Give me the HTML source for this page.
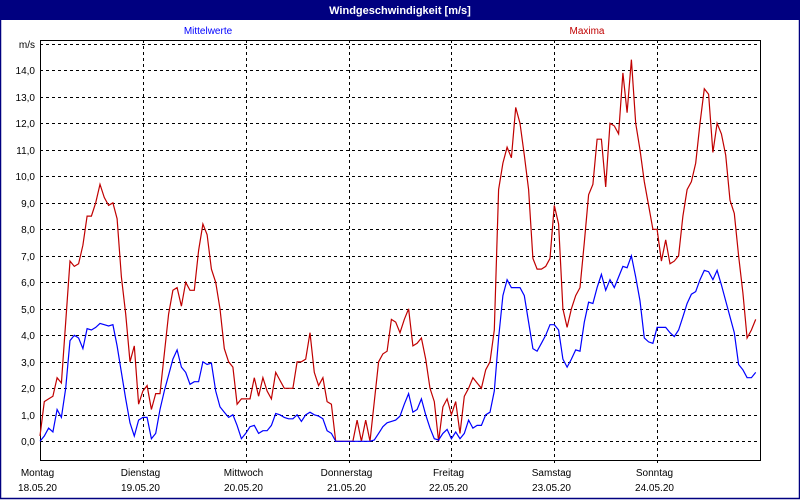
<!DOCTYPE html>
<html><head><meta charset="utf-8"><style>
html,body{margin:0;padding:0;background:#fff;}
svg{display:block;font-family:"Liberation Sans",sans-serif;}
</style></head><body>
<svg id="chart" width="800" height="500" viewBox="0 0 800 500">
<rect x="0" y="0" width="800" height="500" fill="#fff"/>
<rect x="0.5" y="0.5" width="799" height="498" fill="none" stroke="#000080" stroke-width="1.5"/>
<rect x="0" y="0" width="800" height="20" fill="#000080"/>
<text x="400" y="14" text-anchor="middle" font-size="11" font-weight="bold" fill="#fff">Windgeschwindigkeit [m/s]</text>
<text x="208" y="34" text-anchor="middle" font-size="10" fill="#0000ff">Mittelwerte</text>
<text x="587" y="34" text-anchor="middle" font-size="10" fill="#c00000">Maxima</text>
<g id="grid"></g>
<g id="axes"></g>
<g id="series"></g>
</svg>
<script>
const dayNames = ["Montag","Dienstag","Mittwoch","Donnerstag","Freitag","Samstag","Sonntag"];
const dayDates = ["18.05.20","19.05.20","20.05.20","21.05.20","22.05.20","23.05.20","24.05.20"];
const yTicks = [0,1,2,3,4,5,6,7,8,9,10,11,12,13,14];
const yTickLabels = ["0,0","1,0","2,0","3,0","4,0","5,0","6,0","7,0","8,0","9,0","10,0","11,0","12,0","13,0","14,0"];
const maxima = [
0.2,1.5,1.6,1.7,2.4,2.2,4.5,6.8,6.6,6.7,7.4,8.5,8.5,9.0,9.7,9.2,8.9,9.0,8.4,6.2,4.8,3.0,3.6,1.4,
1.9,2.1,1.2,1.8,1.8,3.3,4.8,5.7,5.8,5.1,6.0,5.7,5.7,7.2,8.2,7.8,6.5,6.0,5.0,3.5,3.0,2.8,1.4,1.6,
1.6,1.6,2.4,1.7,2.4,1.9,1.6,2.6,2.3,2.0,2.0,2.0,3.0,3.0,3.1,4.1,2.6,2.1,2.4,1.5,1.4,0,0,0,
0,0,0.8,0,0.8,0,1.5,3.0,3.3,3.4,4.6,4.5,4.1,4.6,5.0,3.6,3.7,3.9,3.1,2.0,1.5,0,1.3,1.6,
1.0,1.5,0.3,1.7,2.0,2.4,2.2,2.0,2.7,3.0,4.2,9.5,10.5,11.1,10.7,12.6,12.0,10.8,9.5,6.9,6.5,6.5,6.6,6.9,
8.9,8.2,5.0,4.3,5.0,5.5,5.8,7.5,9.3,9.7,11.4,11.4,9.6,12.0,11.9,11.6,13.9,12.4,14.4,12.0,11.0,9.8,8.9,8.0,
8.0,6.8,7.6,6.7,6.8,7.0,8.5,9.5,9.8,10.5,12.0,13.3,13.1,10.9,12.0,11.6,10.8,9.1,8.6,7.0,5.6,3.9,4.2,4.6];
const mittel = [
0,0.2,0.5,0.35,1.2,0.9,2.0,3.8,4.0,3.9,3.5,4.25,4.2,4.3,4.45,4.4,4.35,4.4,3.6,2.6,1.6,0.7,0.2,0.8,
0.9,0.9,0.1,0.3,1.2,1.9,2.5,3.1,3.45,2.8,2.6,2.15,2.25,2.25,3.0,2.9,2.95,1.9,1.3,1.1,0.9,1.0,0.6,0.1,
0.3,0.55,0.6,0.3,0.4,0.4,0.6,1.05,1.0,0.9,0.85,0.85,1.0,0.75,1.0,1.1,1.0,0.95,0.85,0.4,0.3,0,0,0,
0,0,0,0,0,0,0.05,0.3,0.55,0.7,0.75,0.8,0.95,1.4,1.8,1.1,1.2,1.6,1.0,0.5,0.1,0.05,0.3,0.45,
0.1,0.35,0.1,0.3,0.8,0.5,0.6,0.6,1.0,1.1,1.9,3.9,5.5,6.1,5.8,5.8,5.8,5.5,4.5,3.5,3.4,3.7,4.0,4.4,
4.4,4.2,3.1,2.8,3.1,3.45,3.4,4.5,5.25,5.2,5.8,6.3,5.7,6.1,5.8,6.2,6.6,6.55,7.0,6.2,5.3,3.9,3.75,3.7,
4.3,4.3,4.3,4.1,3.95,4.2,4.7,5.2,5.55,5.65,6.1,6.45,6.4,6.1,6.45,5.9,5.3,4.7,4.1,2.9,2.7,2.4,2.4,2.6];

const NS = "http://www.w3.org/2000/svg";
const L = 40, R = 760, T = 40, B = 460;
const HOURS = 168;
function xScale(h){ return L + h * (R - L) / HOURS; }
function yScale(v){ return 441.3 - v * 26.5; }
function mk(tag, attrs, parent){ const e = document.createElementNS(NS, tag); for (const k in attrs) e.setAttribute(k, attrs[k]); parent.appendChild(e); return e; }

const grid = document.getElementById("grid");
const axes = document.getElementById("axes");
const series = document.getElementById("series");

// horizontal gridlines (including 15 at top "m/s")
for (let v = 0; v <= 15; v++) {
  const y = Math.round(yScale(v)) + 0.5;
  const ln = mk("line", {x1: L, x2: R, y1: y, y2: y, stroke: "#000", "stroke-width": 1, "stroke-dasharray": "3,3"}, grid);
  
  
}
yTicks.forEach((v, i) => {
  const t = mk("text", {x: 35, y: Math.round(yScale(v)) + 4, "text-anchor": "end", "font-size": 10, fill: "#000"}, axes);
  t.textContent = yTickLabels[i];
  
  
});
const unit = mk("text", {x: 35, y: Math.round(yScale(15)) + 4, "text-anchor": "end", "font-size": 10, fill: "#000"}, axes);
unit.textContent = "m/s";



dayNames.forEach((d, i) => {
  const x = Math.round(xScale(i * 24)) + 0.5;
  if (i > 0) {
    const ln = mk("line", {x1: x, x2: x, y1: T, y2: B + 4, stroke: "#000", "stroke-width": 1, "stroke-dasharray": "3,3"}, grid);
    
    
  }
  const t1 = mk("text", {x: x - 3, y: 476, "text-anchor": "middle", "font-size": 10, fill: "#000"}, axes);
  t1.textContent = d;
  
  
  const t2 = mk("text", {x: x - 3, y: 491, "text-anchor": "middle", "font-size": 10, fill: "#000"}, axes);
  t2.textContent = dayDates[i];
  
  
});

const frame = mk("rect", {x: L + 0.5, y: T + 0.5, width: R - L, height: B - T, fill: "none", stroke: "#000", "stroke-width": 1}, axes);



function drawLine(arr, color, name){
  const pts = arr.map((v, i) => xScale(i).toFixed(1) + "," + yScale(v).toFixed(1)).join(" ");
  const pl = mk("polyline", {points: pts, fill: "none", stroke: color, "stroke-width": 1.2, "stroke-linejoin": "miter"}, series);
  
  
}
drawLine(maxima, "#c00000", "maxima-line");
drawLine(mittel, "#0000ff", "mittelwerte-line");
</script>
</body></html>
